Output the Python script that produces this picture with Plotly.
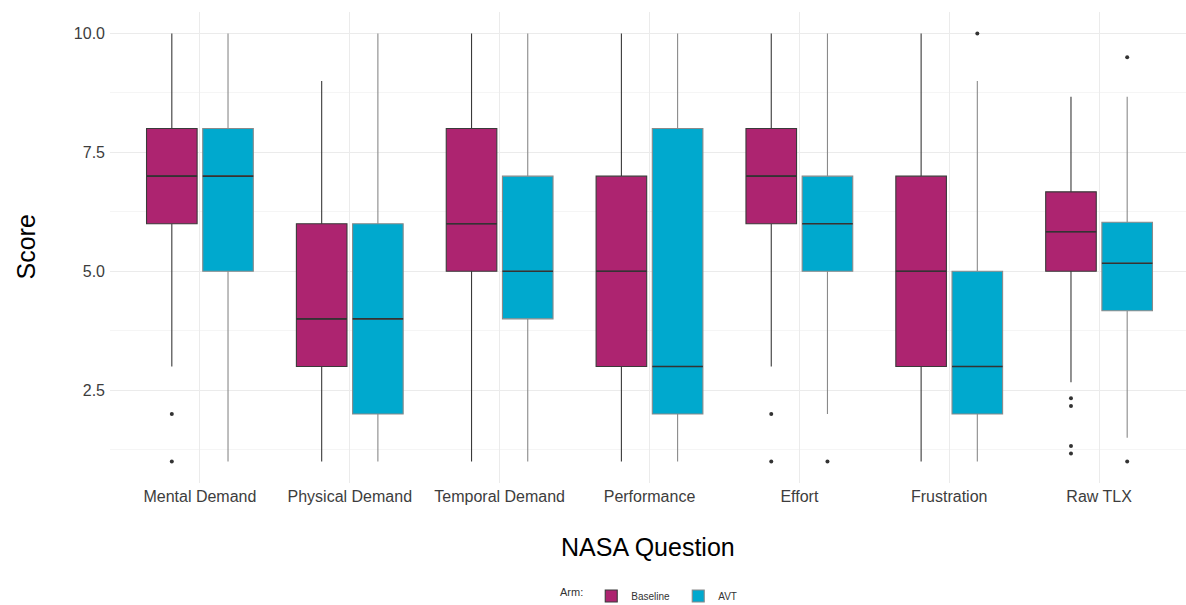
import plotly.graph_objects as go

# NASA-TLX item scores by study arm (box statistics)
questions = ["Mental Demand", "Physical Demand", "Temporal Demand", "Performance",
             "Effort", "Frustration", "Raw TLX"]

base_low = [3, 1, 1, 1, 3, 1, 2.67]
base_q1 = [6, 3, 5, 3, 6, 3, 5.0]
base_med = [7, 4, 6, 5, 7, 5, 5.83]
base_q3 = [8, 6, 8, 7, 8, 7, 6.67]
base_high = [10, 9, 10, 10, 10, 10, 8.67]
base_out = [[2, 1], [], [], [], [2, 1], [], [2.33, 2.17, 1.33, 1.17]]

avt_low = [1, 1, 1, 1, 2, 1, 1.5]
avt_q1 = [5, 2, 4, 2, 5, 2, 4.17]
avt_med = [7, 4, 5, 3, 6, 3, 5.17]
avt_q3 = [8, 6, 7, 8, 7, 5, 6.03]
avt_high = [10, 10, 10, 10, 10, 9, 8.67]
avt_out = [[], [], [], [], [1], [10], [9.5, 1.0]]

arms = [
    dict(name="Baseline", low=base_low, q1=base_q1, med=base_med, q3=base_q3,
         high=base_high, out=base_out, fill="#AD2470", line="#3a3a3a", shift=-1),
    dict(name="AVT", low=avt_low, q1=avt_q1, med=avt_med, q3=avt_q3,
         high=avt_high, out=avt_out, fill="#00A9CE", line="#8a8a8a", shift=1),
]

dodge = 0.1875      # half of the 0.375 dodge slot
box_w = 0.3375      # box width inside its slot

fig = go.Figure()
for arm in arms:
    xs = [i + arm["shift"] * dodge for i in range(len(questions))]
    fig.add_trace(go.Box(
        name=arm["name"], x=xs,
        q1=arm["q1"], median=arm["med"], q3=arm["q3"],
        lowerfence=arm["low"], upperfence=arm["high"],
        width=box_w, boxpoints=False,
        fillcolor=arm["fill"], line=dict(color=arm["line"], width=1.1),
        whiskerwidth=0, hoverinfo="skip", showlegend=True,
    ))
    # median bars drawn dark on top of the box
    mx, my = [], []
    for x, m in zip(xs, arm["med"]):
        mx += [x - box_w / 2, x + box_w / 2, None]
        my += [m, m, None]
    fig.add_trace(go.Scatter(x=mx, y=my, mode="lines",
                             line=dict(color="#333333", width=1.6),
                             showlegend=False, hoverinfo="skip"))
    # outliers
    ox, oy = [], []
    for x, pts in zip(xs, arm["out"]):
        for p in pts:
            ox.append(x)
            oy.append(p)
    fig.add_trace(go.Scatter(x=ox, y=oy, mode="markers",
                             marker=dict(color="#333333", size=4),
                             showlegend=False, hoverinfo="skip"))

font = "Liberation Sans, Arial, sans-serif"
W, H = 1186, 605
left, right, top, bottom = 110, 0, 12, 122
plot_w = W - left - right
plot_h = H - top - bottom
fig.update_layout(
    width=W, height=H,
    margin=dict(l=left, r=right, t=top, b=bottom, autoexpand=False),
    plot_bgcolor="white", paper_bgcolor="white",
    font=dict(family=font, color="#333333"),
    xaxis=dict(
        range=[-0.6, 6.58], tickmode="array",
        tickvals=list(range(len(questions))), ticktext=questions,
        tickfont=dict(size=16, color="#3d3d3d"), ticklabelstandoff=2,
        showgrid=True, gridcolor="#ebebeb", gridwidth=1,
        zeroline=False, showline=False, ticks="",
    ),
    yaxis=dict(
        range=[0.55, 10.45], tickmode="array",
        tickvals=[2.5, 5.0, 7.5, 10.0], ticktext=["2.5", "5.0", "7.5", "10.0"],
        tickfont=dict(size=16, color="#3d3d3d"), ticklabelstandoff=4,
        showgrid=True, gridcolor="#ebebeb", gridwidth=1,
        minor=dict(tickmode="array", tickvals=[1.25, 3.75, 6.25, 8.75],
                   showgrid=True, gridcolor="#f5f5f5", gridwidth=1),
        zeroline=False, showline=False, ticks="",
    ),
    showlegend=True,
    legend=dict(
        orientation="h", xref="container", x=662 / W, xanchor="center",
        yref="container", y=(H - 596) / H, yanchor="middle", valign="middle",
        title=dict(text="Arm:", side="left", font=dict(size=11, color="#333333")),
        font=dict(size=10, color="#333333"),
        itemwidth=30, entrywidth=42, entrywidthmode="pixels", tracegroupgap=0,
    ),
    annotations=[
        dict(text="Score", x=-(left - 25) / plot_w, xref="paper", xanchor="center",
             y=0.5, yref="paper", textangle=-90, showarrow=False,
             font=dict(size=25, color="#000000")),
        dict(text="NASA Question", x=(648 - left) / plot_w, xref="paper",
             y=(top + plot_h - 547) / plot_h, yref="paper",
             yanchor="middle", showarrow=False,
             font=dict(size=25, color="#000000")),
    ],
)

fig.write_html("out.html")
